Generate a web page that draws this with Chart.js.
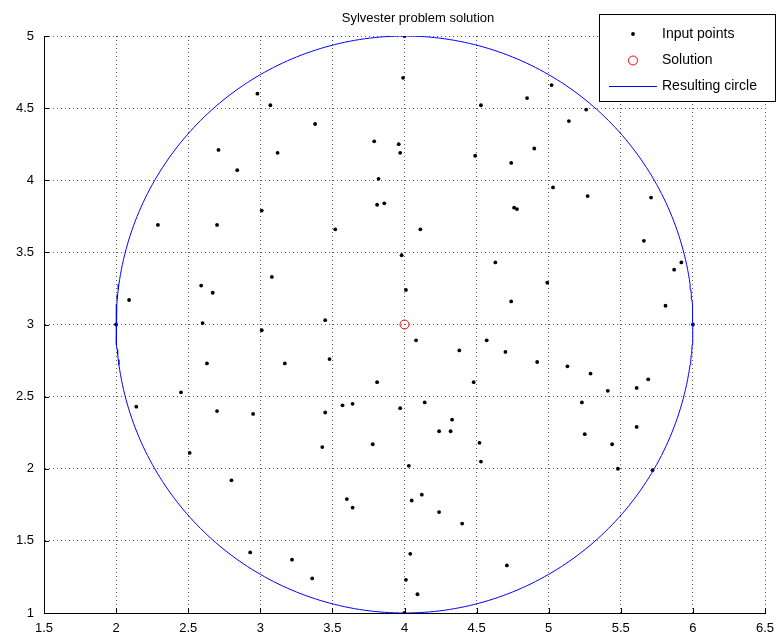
<!DOCTYPE html>
<html>
<head>
<meta charset="utf-8">
<script src="https://cdn.jsdelivr.net/npm/chart.js@4.4.1/dist/chart.umd.min.js"></script>
<style>
  html, body { margin: 0; padding: 0; background: #ffffff; }
  #wrap { width: 777px; height: 636px; position: relative; }
</style>
</head>
<body>
<div id="wrap"><canvas id="c" width="777" height="636"></canvas></div>
<script>
// ---- data ----
const inputX = [4.00,3.99,2.98,2.71,2.84,3.07,3.38,3.12,3.79,3.96,3.97,3.82,5.02,4.85,4.53,4.49,4.90,4.74,5.26,5.14,
                2.29,2.70,2.09,2.59,2.67,3.81,3.86,3.01,3.52,3.98,4.01,3.08,3.45,5.03,4.11,4.76,4.78,4.63,4.99,4.74,
                5.27,5.71,5.66,5.92,5.87,5.81,2.00,2.60,3.01,2.63,3.17,2.45,2.14,2.70,2.95,2.51,2.80,2.93,3.22,4.08,
                4.57,4.38,3.48,3.81,4.48,3.57,3.64,3.45,3.97,4.14,4.33,4.24,4.32,3.43,3.78,4.52,4.03,4.53,3.60,3.64,
                4.12,4.05,4.24,4.40,4.04,3.36,4.01,4.09,6.00,4.70,4.92,5.13,5.29,5.69,5.41,5.61,5.23,5.61,5.25,5.44,
                5.48,5.72,4.71,4.00];
const inputY = [5.00,4.71,4.60,4.21,4.07,4.52,4.39,4.19,4.27,4.25,4.19,4.01,4.66,4.57,4.52,4.17,4.22,4.12,4.49,4.41,
                3.69,3.69,3.17,3.27,3.22,3.83,3.84,3.79,3.66,3.48,3.24,3.33,3.03,3.95,3.66,3.81,3.80,3.43,3.29,3.16,
                3.89,3.88,3.58,3.43,3.38,3.13,3.00,3.01,2.96,2.73,2.73,2.53,2.43,2.40,2.38,2.11,1.92,1.42,1.37,2.89,
                2.89,2.82,2.76,2.60,2.60,2.44,2.45,2.39,2.42,2.46,2.34,2.26,2.26,2.15,2.17,2.18,2.02,2.05,1.79,1.73,
                1.82,1.78,1.70,1.62,1.41,1.24,1.23,1.13,3.00,2.81,2.74,2.71,2.66,2.62,2.54,2.56,2.46,2.29,2.24,2.17,
                2.00,1.99,1.33,1.00];
const solutionX = [4.0];
const solutionY = [3.0];
const circleCenter = [4.0, 3.0];
const circleRadius = 2.0;
const xTickLabels = ['1.5','2','2.5','3','3.5','4','4.5','5','5.5','6','6.5'];
const yTickLabels = ['1','1.5','2','2.5','3','3.5','4','4.5','5'];
const seriesNames = ['Input points','Solution','Resulting circle'];
const titleText = 'Sylvester problem solution';

// ---- build datasets ----
const inputData = inputX.map((x, i) => ({ x: x, y: inputY[i] }));
const solutionData = solutionX.map((x, i) => ({ x: x, y: solutionY[i] }));
const circleData = [];
for (let a = 0; a <= 360; a += 1) {
  const t = a * Math.PI / 180;
  circleData.push({ x: circleCenter[0] + circleRadius * Math.cos(t), y: circleCenter[1] + circleRadius * Math.sin(t) });
}

const FONT = "'Liberation Sans', Arial, Helvetica, sans-serif";

const decorPlugin = {
  id: 'decor',
  afterDraw(chart) {
    const ctx = chart.ctx;
    const xs = chart.scales.x, ys = chart.scales.y;
    const area = chart.chartArea;
    ctx.save();
    // inward ticks
    ctx.strokeStyle = '#000';
    ctx.lineWidth = 1;
    ctx.beginPath();
    xs.ticks.forEach(t => {
      const px = Math.round(xs.getPixelForValue(t.value)) + 0.5;
      ctx.moveTo(px, area.bottom);
      ctx.lineTo(px, area.bottom - 5);
    });
    ys.ticks.forEach(t => {
      const py = Math.round(ys.getPixelForValue(t.value)) + 0.5;
      ctx.moveTo(area.left, py);
      ctx.lineTo(area.left + 5, py);
    });
    ctx.stroke();

    // title
    ctx.fillStyle = '#000';
    ctx.font = '13px ' + FONT;
    ctx.textAlign = 'center';
    ctx.textBaseline = 'middle';
    ctx.fillText(titleText, 418, 18);

    // legend box
    const bx = 599.5, by = 14.5, bw = 176, bh = 87;
    ctx.fillStyle = '#fff';
    ctx.fillRect(bx, by, bw, bh);
    ctx.strokeStyle = '#000';
    ctx.lineWidth = 1;
    ctx.strokeRect(bx, by, bw, bh);
    const rows = [34, 60.5, 86.5];
    const mx = 633;
    // input point marker
    ctx.fillStyle = '#000';
    ctx.beginPath(); ctx.arc(mx, rows[0], 1.9, 0, Math.PI * 2); ctx.fill();
    // solution marker
    ctx.strokeStyle = '#ff0000';
    ctx.beginPath(); ctx.arc(mx, rows[1], 4.5, 0, Math.PI * 2); ctx.stroke();
    // circle line
    ctx.strokeStyle = '#0000ff';
    ctx.beginPath(); ctx.moveTo(609, rows[2]); ctx.lineTo(657, rows[2]); ctx.stroke();
    ctx.fillStyle = '#000';
    ctx.font = '14px ' + FONT;
    ctx.textAlign = 'left';
    ctx.textBaseline = 'middle';
    seriesNames.forEach((n, i) => ctx.fillText(n, 662, rows[i]));
    ctx.restore();
  }
};

new Chart(document.getElementById('c'), {
  type: 'scatter',
  data: {
    datasets: [
      { label: seriesNames[2], data: circleData, showLine: true, pointRadius: 0, borderColor: '#0000ff', borderWidth: 1, fill: false, tension: 0 },
      { label: seriesNames[0], data: inputData, pointRadius: 1.9, pointBackgroundColor: '#000', pointBorderWidth: 0, showLine: false },
      { label: seriesNames[1], data: solutionData, pointRadius: 4.5, pointBorderColor: '#ff0000', pointBackgroundColor: 'rgba(0,0,0,0)', pointBorderWidth: 1, showLine: false }
    ]
  },
  options: {
    responsive: false,
    animation: false,
    devicePixelRatio: 1,
    layout: { padding: { left: 0, right: 12, top: 36, bottom: 0 } },
    plugins: { legend: { display: false }, tooltip: { enabled: false }, title: { display: false } },
    scales: {
      x: {
        type: 'linear', min: 1.5, max: 6.5,
        ticks: { stepSize: 0.5, color: '#000', font: { family: FONT, size: 13 }, padding: 8, maxRotation: 0, autoSkip: false,
                 callback: (v, i) => xTickLabels[i] },
        grid: { color: 'rgba(0,0,0,0.65)', drawTicks: false, lineWidth: 1 },
        border: { display: true, color: '#000', width: 1, dash: [1, 3] },
        afterFit: (s) => { s.height = 23; s.paddingLeft = 0; s.paddingRight = 0; }
      },
      y: {
        type: 'linear', min: 1, max: 5,
        ticks: { stepSize: 0.5, color: '#000', font: { family: FONT, size: 13 }, padding: 10, autoSkip: false,
                 callback: (v, i) => yTickLabels[i] },
        grid: { color: 'rgba(0,0,0,0.65)', drawTicks: false, lineWidth: 1 },
        border: { display: true, color: '#000', width: 1, dash: [1, 3] },
        afterFit: (s) => { s.width = 44; s.paddingTop = 0; s.paddingBottom = 0; }
      }
    }
  },
  plugins: [decorPlugin]
});
</script>
</body>
</html>
